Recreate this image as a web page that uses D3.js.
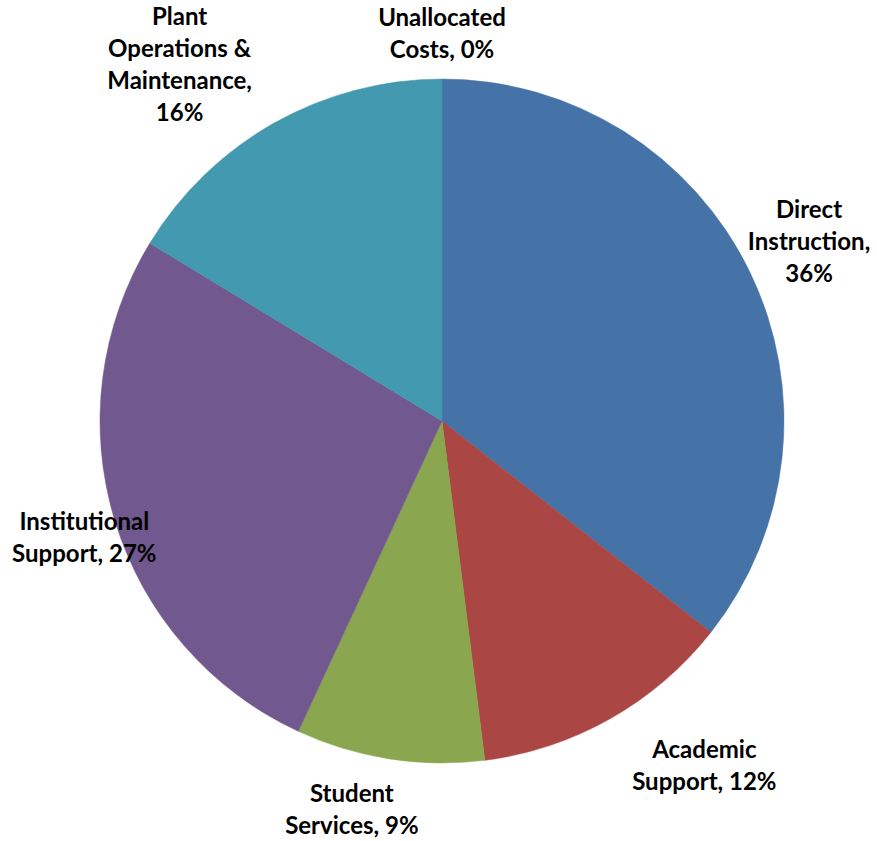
<!DOCTYPE html>
<html>
<head>
<meta charset="utf-8">
<script src="https://cdn.jsdelivr.net/npm/d3@7"></script>
<style>
  html, body { margin: 0; padding: 0; background: #fff; }
  svg { display: block; }
  text { font-family: Lato, "Open Sans", sans-serif; font-weight: bold; fill: #000; }
</style>
</head>
<body>
<script>
// ---- data ----
const categories = ["Direct Instruction", "Academic Support", "Student Services",
                    "Institutional Support", "Plant Operations & Maintenance", "Unallocated Costs"];
const values = [35.6, 12.4, 8.9, 26.8, 16.3, 0.0];
const labelLines = [
  ["Direct", "Instruction,", "36%"],
  ["Academic", "Support, 12%"],
  ["Student", "Services, 9%"],
  ["Institutional", "Support, 27%"],
  ["Plant", "Operations &", "Maintenance,", "16%"],
  ["Unallocated", "Costs, 0%"]
];
const colors = ["#4673A7", "#AA4644", "#8AA64F", "#71588F", "#4399AF", "#DB843D"];

// ---- layout (label placement: angle in degrees clockwise from top, distance from centre) ----
const labelLayout = [
  {angle: 65, dist: 405},
  {angle: 143.4, dist: 440},
  {angle: 192.8, dist: 407},
  {angle: 250.7, dist: 379},
  {angle: 323, dist: 436},
  {angle: 0, dist: 379}
];

const W = 877, H = 841;
const cx = 442, cy = 421, R = 342;
const lineH = 32;

const svg = d3.select("body").append("svg").attr("width", W).attr("height", H);
const g = svg.append("g").attr("transform", `translate(${cx},${cy})`);

const pie = d3.pie().sort(null).value(d => d);
const arcs = pie(values);
const arc = d3.arc().innerRadius(0).outerRadius(R);

g.selectAll("path.slice").data(arcs).enter().append("path")
  .attr("class", "slice")
  .attr("d", arc)
  .attr("fill", (d, i) => colors[i])
  .attr("stroke", (d, i) => colors[i])
  .attr("stroke-width", d => d.value > 0 ? 0.5 : 0);

const labels = g.selectAll("g.lbl").data(arcs).enter().append("g")
  .attr("class", "lbl")
  .attr("transform", (d, i) => {
    const a = labelLayout[i].angle * Math.PI / 180;
    const r = labelLayout[i].dist;
    return `translate(${r * Math.sin(a)},${-r * Math.cos(a)})`;
  });

labels.each(function(d, i) {
  const lines = labelLines[i];
  const n = lines.length;
  const t = d3.select(this).append("text")
    .attr("text-anchor", "middle")
    .attr("font-size", 24);
  lines.forEach((ln, k) => {
    t.append("tspan")
      .attr("x", 0)
      .attr("y", (k - (n - 1) / 2) * lineH)
      .text(ln);
  });
});
</script>
</body>
</html>
